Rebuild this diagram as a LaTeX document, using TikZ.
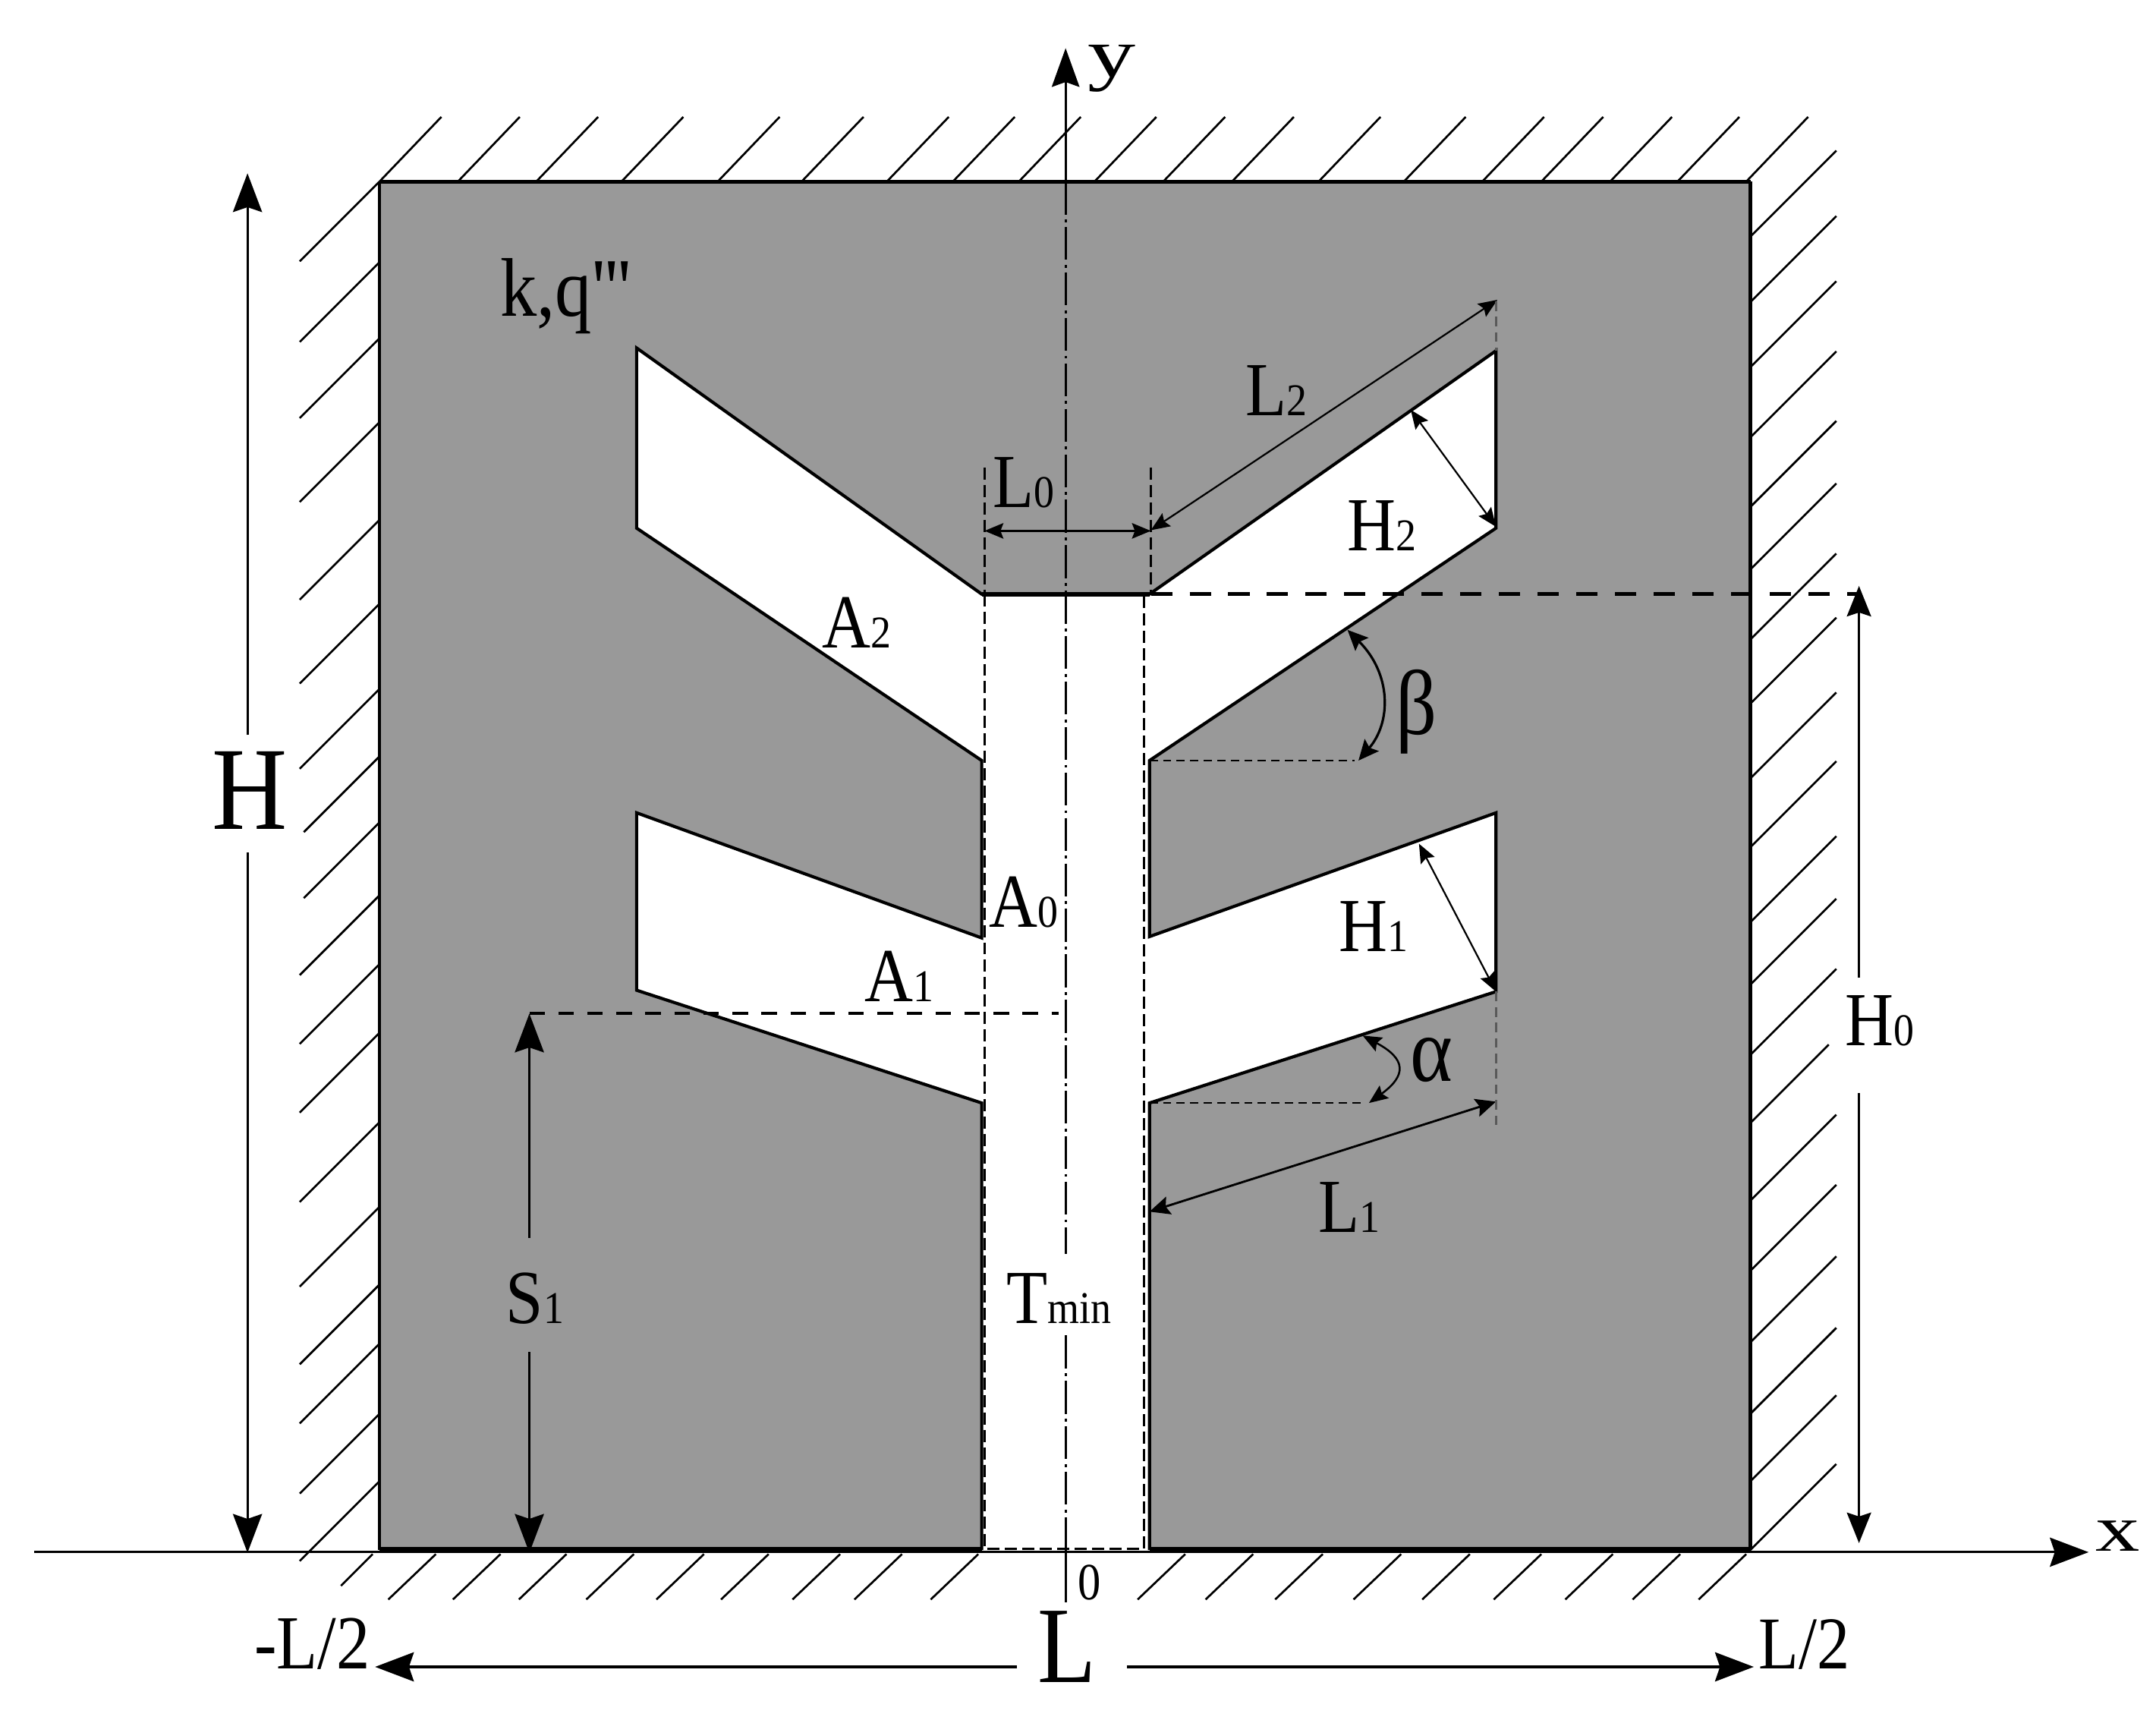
\documentclass[tikz,border=0pt]{standalone}
\usepackage{fontspec}
\usetikzlibrary{arrows.meta}
\setmainfont[FakeStretch=0.88]{Liberation Serif}
\newfontfamily\plainf[FakeStretch=0.88]{Liberation Serif}
\newfontfamily\subf[FakeStretch=0.9]{Liberation Serif}
\newcommand{\fs}[2]{{\fontsize{#1pt}{#1pt}\selectfont #2}}
\newcommand{\lbl}[2]{\fs{15.8}{#1}{\subf\fs{9.4}{#2}}}
\definecolor{solidgray}{RGB}{153,153,153}
\tikzset{
  x=0.01cm,y=-0.01cm,
  txt/.style={inner sep=0pt,outer sep=0pt,anchor=base west,text=black},
  wall/.style={line width=0.65pt,black,line join=miter},
  hatch/.style={line width=0.42pt,black},
  axisline/.style={line width=0.5pt,black},
  bighead/.style={-{Stealth[length=8pt,width=6pt,inset=1pt]}},
  midhead/.style={{Stealth[length=3.9pt,width=3.2pt,inset=0.6pt]}-{Stealth[length=3.9pt,width=3.2pt,inset=0.6pt]},line width=0.4pt},
  arcs/.style={{Stealth[length=4.2pt,width=3.8pt,inset=0.7pt]}-{Stealth[length=4.2pt,width=3.8pt,inset=0.7pt]},line width=0.45pt},
  centreline/.style={line width=0.5pt,dash pattern=on 6.8pt off 1pt on 0.6pt off 1pt},
  heavydash/.style={line width=0.85pt,dash pattern=on 4.4pt off 3.6pt},
  meddash/.style={line width=0.6pt,dash pattern=on 3.2pt off 2.8pt},
  finedash/.style={line width=0.4pt,dash pattern=on 1.7pt off 1.1pt},
  chandash/.style={line width=0.5pt,dash pattern=on 2.5pt off 1.1pt},
  extdash/.style={line width=0.4pt,black!65,dash pattern=on 2pt off 1.2pt},
}
\begin{document}
\begin{tikzpicture}
\useasboundingbox (0,0) rectangle (1568,1250.6);
% corners
\coordinate (tl) at (276,132); \coordinate (tr) at (1273,132);
\coordinate (bl) at (276,1127); \coordinate (br) at (1273,1127);
\coordinate (c1) at (714,1127); \coordinate (c2) at (714,802);
\coordinate (c3) at (463,720); \coordinate (c4) at (463,591);
\coordinate (c5) at (714,682); \coordinate (c6) at (714,553);
\coordinate (c7) at (463,384); \coordinate (c8) at (463,253);
\coordinate (c9) at (714,432); \coordinate (c10) at (836,432);
\coordinate (c11) at (1088,255); \coordinate (c12) at (1088,384);
\coordinate (c13) at (836,553); \coordinate (c14) at (836,681);
\coordinate (c15) at (1088,591); \coordinate (c16) at (1088,721);
\coordinate (c17) at (836,802); \coordinate (c18) at (836,1127);
% hatching
\foreach \h in {276,333,390,452,522,583,645,693,741,796,846,896,959,1021,1078,1121,1171,1220,1270}
  \draw[hatch] (\h,132) -- ++(45,-47);
\foreach \h in {132,190.6,246,307,378,439,501,651,701,751,816,877.5,934,977,1028,1077}
  \draw[hatch] (276,\h) -- ++(-58,58);
\foreach \h in {550,598}
  \draw[hatch] (276,\h) -- ++(-55,55);
\foreach \h in {172,219.6,267,318,368.6,414,465,511.6,566,616,670.5,716,767,873,924,976,1028,1077,1127}
  \draw[hatch] (1273,\h) -- ++(62.5,-62.5);
\draw[hatch] (1273,816.5) -- ++(57,-57);
\draw[hatch] (271,1130) -- ++(-23,23);
\foreach \h in {317,364,412,461,512,559,611,656,711.5,862,911.4,962,1019,1069,1121,1173,1222,1270}
  \draw[hatch] (\h,1130) -- ++(-34.6,33);
% solid
\fill[solidgray] (tl) -- (tr) -- (br) -- (bl) -- cycle;
\fill[white] (c1) -- (c2) -- (c3) -- (c4) -- (c5) -- (c6) -- (c7) -- (c8) -- (c9) -- (c10) -- (c11) -- (c12) -- (c13) -- (c14) -- (c15) -- (c16) -- (c17) -- (c18) -- cycle;
\draw[wall] (tl) -- (bl) (tr) -- (br);
\draw[wall,line width=0.75pt] (tl) -- (tr);
\draw[wall,line width=1.1pt] (bl) -- (c1) (c18) -- (br);
\draw[wall] (c1) -- (c2) -- (c3) -- (c4) -- (c5) -- (c6) -- (c7) -- (c8) -- (c9) -- (c10) -- (c11) -- (c12) -- (c13) -- (c14) -- (c15) -- (c16) -- (c17) -- (c18);
\draw[wall,line width=0.9pt] (c9) -- (c10);
% channel dashes
\coordinate (d1) at (716,432); \coordinate (d2) at (716,1126);
\coordinate (d3) at (832,432); \coordinate (d4) at (832,1126);
\draw[chandash] (d1) -- (d2) -- (d4) -- (d3);
% axes
\coordinate (xs) at (25,1128.6); \coordinate (xe) at (1519,1128.6);
\coordinate (ys) at (775,1165); \coordinate (y0) at (775,1127);
\coordinate (ytop) at (775,132); \coordinate (ye) at (775,35);
\coordinate (yb) at (775,971); \coordinate (ya) at (775,912);
\draw[axisline,-{Stealth[length=8pt,width=6pt,inset=1pt]}] (xs) -- (xe);
\draw[axisline] (ys) -- (y0);
\draw[axisline,-{Stealth[length=8pt,width=5.7pt,inset=1pt]}] (ytop) -- (ye);
\draw[centreline] (ytop) -- (ya);
\draw[centreline] (yb) -- (y0);
% H
\coordinate (Ha) at (180,534.5); \coordinate (Hb) at (180,126);
\coordinate (Hc) at (180,620); \coordinate (Hd) at (180,1129);
\draw[axisline,bighead] (Ha) -- (Hb);
\draw[axisline,bighead] (Hc) -- (Hd);
% H0
\coordinate (H0a) at (1352,711); \coordinate (H0b) at (1352,426);
\coordinate (H0c) at (1352,795); \coordinate (H0d) at (1352,1122);
\draw[axisline,-{Stealth[length=6.3pt,width=5pt,inset=0.8pt]}] (H0a) -- (H0b);
\draw[axisline,-{Stealth[length=6.3pt,width=5pt,inset=0.8pt]}] (H0c) -- (H0d);
\coordinate (H0e) at (837,432); \coordinate (H0f) at (1352,432);
\draw[heavydash] (H0e) -- (H0f);
% S1
\coordinate (Sa) at (385,900); \coordinate (Sb) at (385,737);
\coordinate (Sc) at (385,983); \coordinate (Sd) at (385,1129);
\draw[axisline,bighead] (Sa) -- (Sb);
\draw[axisline,bighead] (Sc) -- (Sd);
\coordinate (Se) at (385,737); \coordinate (Sf) at (770,737);
\draw[meddash] (Se) -- (Sf);
% L
\coordinate (La) at (739.6,1212); \coordinate (Lb) at (272.8,1212);
\coordinate (Lc) at (819.7,1212); \coordinate (Ld) at (1275.5,1212);
\draw[axisline,line width=0.6pt,bighead] (La) -- (Lb);
\draw[axisline,line width=0.6pt,bighead] (Lc) -- (Ld);
% L0
\coordinate (L0a) at (716,340); \coordinate (L0b) at (716,432);
\coordinate (L0c) at (837,340); \coordinate (L0d) at (837,432);
\draw[chandash] (L0a) -- (L0b) (L0c) -- (L0d);
\coordinate (L0e) at (716,386); \coordinate (L0f) at (837,386);
\draw[midhead] (L0e) -- (L0f);
% L2
\coordinate (L2a) at (837,385.5); \coordinate (L2b) at (1089,218);
\draw[midhead,line width=0.35pt] (L2a) -- (L2b);
\coordinate (L2c) at (1088,219);
\draw[extdash] (L2c) -- (c11);
% H2
\coordinate (H2a) at (1026,298); \coordinate (H2b) at (1088,383);
\draw[midhead,line width=0.35pt] (H2a) -- (H2b);
% H1
\coordinate (H1a) at (1032,613.5); \coordinate (H1b) at (1088,721);
\draw[midhead,line width=0.35pt] (H1a) -- (H1b);
% L1
\coordinate (L1a) at (836,881); \coordinate (L1b) at (1088,801);
\draw[arcs] (L1a) -- (L1b);
\coordinate (L1c) at (1088,820.5);
\draw[extdash] (c16) -- (L1c);
% beta
\coordinate (ba) at (980,458); \coordinate (bb) at (988,553); \coordinate (bc) at (985,553);
\draw[arcs,line width=0.5pt] (ba) .. controls (1012,490) and (1012,525) .. (bb);
\draw[finedash] (c13) -- (bc);
% alpha
\coordinate (aa) at (991,753); \coordinate (ab) at (995.6,802); \coordinate (ac) at (992,802);
\draw[midhead] (aa) .. controls (1023,770) and (1023,782) .. (ab);
\draw[finedash] (c17) -- (ac);
% labels
\node[txt] (lkq) at (364,230) {\plainf\fs{17.2}{k,q'''}};
\node[txt,xscale=1.25,transform shape,yscale=0.8] (ly) at (791,56) {\fs{18}{y}};
\node[txt,xscale=1.3,yscale=0.85,transform shape] (lx) at (1524,1128) {\fs{16}{x}};
\node[txt] (lL0) at (722,369) {\lbl{L}{0}};
\node[txt] (lL2) at (906,302) {\lbl{L}{2}};
\node[txt] (lH2) at (980,400.6) {\lbl{H}{2}};
\node[txt] (lA2) at (598,471) {\lbl{A}{2}};
\node[txt] (lA0) at (719.6,674) {\lbl{A}{0}};
\node[txt] (lA1) at (629,728) {\lbl{A}{1}};
\node[txt] (lH1) at (973.7,692) {\lbl{H}{1}};
\node[txt] (lL1) at (959,896) {\lbl{L}{1}};
\node[txt] (lS1) at (368,962) {\lbl{S}{1}};
\node[txt] (lH0) at (1342,760) {\lbl{H}{0}};
\node[txt] (lTm) at (732,962) {\fs{15.8}{T}{\subf\fs{9.4}{min}}};
\node[txt] (lb) at (1015,534) {\fs{19}{β}};
\node[txt] (la) at (1026,786) {\fs{19}{α}};
\node[txt] (lH) at (154.5,603) {\fs{24.5}{H}};
\node[txt] (lL) at (754.6,1223.5) {\fs{22.5}{L}};
\node[txt] (l0) at (784,1163) {\fs{10.8}{0}};
\node[txt] (lml) at (185,1213.6) {\fs{15.8}{-L/2}};
\node[txt] (lpl) at (1279,1213.6) {\fs{15.4}{L/2}};
\end{tikzpicture}
\end{document}
